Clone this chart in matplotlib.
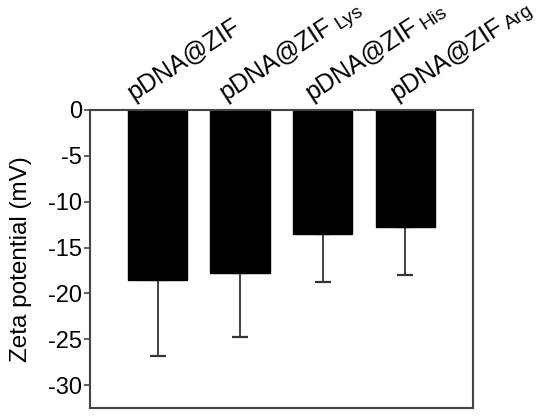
import matplotlib
matplotlib.use("Agg")
import matplotlib.pyplot as plt
import matplotlib.transforms as mtransforms
import numpy as np

plt.rcParams['font.family'] = ['Liberation Sans', 'DejaVu Sans']

base_labels = ["pDNA@ZIF", "pDNA@ZIF", "pDNA@ZIF", "pDNA@ZIF"]
sub_labels = ["", "Lys", "His", "Arg"]
values = [-18.55, -17.75, -13.5, -12.75]
errors = [8.3, 7.0, 5.3, 5.2]
yticks = [0, -5, -10, -15, -20, -25, -30]

# layout: horizontal pixel shift of each rotated label from its bar centre
label_shift_px = [-24, -14, -11, -9]

DPI = 100
fig = plt.figure(figsize=(5.5, 4.19), dpi=DPI)
ax = fig.add_axes([0.1636, 0.0263, 0.6964, 0.7112])

x = np.arange(len(values))
ax.errorbar(x, values, yerr=[errors, [0]*len(errors)], fmt='none', ecolor='#333333',
            elinewidth=1.3, capsize=6, capthick=1.6, zorder=1)
ax.bar(x, values, width=0.72, color='black', edgecolor='black', linewidth=1.0, zorder=2)

ax.set_xlim(-0.82, 3.82)
ax.set_ylim(-32.5, 0)
ax.set_yticks(yticks)
ax.set_yticklabels([str(t) for t in yticks], fontsize=17)
ax.tick_params(axis='y', direction='out', length=4, width=1.2, color='#444444', pad=1.5)
ax.set_xticks([])

for s in ax.spines.values():
    s.set_color('#444444')
    s.set_linewidth(1.5)

ax.set_ylabel("Zeta potential (mV)", fontsize=17.5)
ax.yaxis.set_label_coords(-0.152, 0.5)

# rotated category labels above the axes, with subscripts
rot = 33
main_fs = 18
sub_fs = 14
theta = np.deg2rad(rot)
renderer = fig.canvas.get_renderer()
blend = mtransforms.blended_transform_factory(ax.transData, ax.transAxes)
for xi, b, s, sh in zip(x, base_labels, sub_labels, label_shift_px):
    off = mtransforms.ScaledTranslation(sh / DPI, 9 / DPI, fig.dpi_scale_trans)
    ax.text(xi, 1.0, b, fontsize=main_fs, rotation=rot, rotation_mode='anchor',
            ha='left', va='baseline', transform=blend + off, clip_on=False)
    if s:
        tmp = fig.text(0, 0, b, fontsize=main_fs)
        w = tmp.get_window_extent(renderer).width
        tmp.remove()
        gap = 4
        drop = 2
        px = sh + (w + gap) * np.cos(theta) + drop * np.sin(theta)
        py = 9 + (w + gap) * np.sin(theta) - drop * np.cos(theta)
        off2 = mtransforms.ScaledTranslation(px / DPI, py / DPI, fig.dpi_scale_trans)
        ax.text(xi, 1.0, s, fontsize=sub_fs, rotation=rot, rotation_mode='anchor',
                ha='left', va='baseline', transform=blend + off2, clip_on=False)

fig.savefig("out.png", dpi=DPI)
